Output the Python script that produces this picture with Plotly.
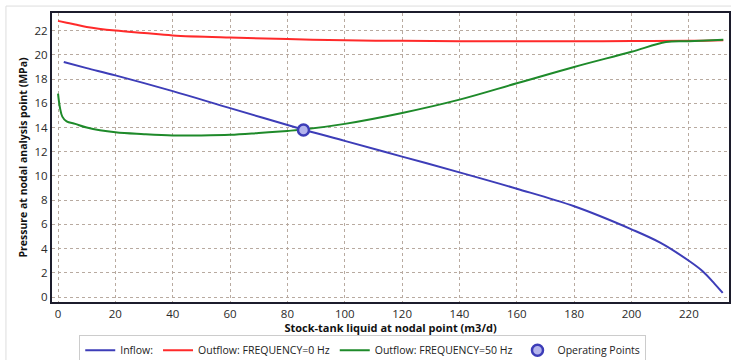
import plotly.graph_objects as go

# Inflow (IPR)
inflow_x = [2, 10, 20, 40, 60, 86, 100, 120, 140, 160, 180, 200, 210, 220, 225, 229, 231.8]
inflow_y = [19.4, 18.9, 18.3, 17.0, 15.6, 13.8, 12.9, 11.6, 10.3, 8.95, 7.5, 5.6, 4.5, 3.0, 2.1, 1.1, 0.35]

# Outflow 0 Hz
out0_x = [0, 3, 6, 10, 20, 30, 40, 60, 80, 100, 120, 140, 160, 180, 200, 220, 232]
out0_y = [22.8, 22.65, 22.5, 22.3, 22.0, 21.8, 21.6, 21.42, 21.3, 21.2, 21.15, 21.12, 21.12, 21.12, 21.13, 21.15, 21.2]

# Outflow 50 Hz
out50_x = [0, 0.7, 1.5, 3, 6, 10, 20, 30, 40, 50, 60, 70, 80, 86, 100, 120, 140, 160, 180, 200, 212, 220, 232]
out50_y = [16.8, 15.6, 14.9, 14.5, 14.3, 14.0, 13.6, 13.45, 13.35, 13.35, 13.4, 13.55, 13.72, 13.85, 14.3, 15.2, 16.3, 17.65, 19.0, 20.25, 21.05, 21.12, 21.25]

# Operating point
op_x = [85.6]
op_y = [13.8]

fig = go.Figure()
fig.add_trace(go.Scatter(x=inflow_x, y=inflow_y, mode="lines", name="Inflow:",
                         line=dict(color="#3d3db8", width=2, shape="spline")))
fig.add_trace(go.Scatter(x=out0_x, y=out0_y, mode="lines", name="Outflow: FREQUENCY=0 Hz",
                         line=dict(color="#ff2a2a", width=2, shape="spline")))
fig.add_trace(go.Scatter(x=out50_x, y=out50_y, mode="lines", name="Outflow: FREQUENCY=50 Hz",
                         line=dict(color="#1e8a2a", width=2, shape="spline")))
fig.add_trace(go.Scatter(x=op_x, y=op_y, mode="markers", name="Operating Points",
                         marker=dict(size=11, color="#b4b4ec", line=dict(color="#3d3db8", width=2.5))))

axis_font = dict(family="Open Sans", size=11.5, color="#2a2a2a")
fig.update_layout(
    width=731, height=360,
    margin=dict(l=52, r=2, t=13, b=58),
    paper_bgcolor="white", plot_bgcolor="white",
    font=dict(family="Open Sans", size=10.5, color="#222222"),
    showlegend=True,
    legend=dict(orientation="h", x=0.459, xanchor="center", yref="container", y=0.07, yanchor="top",
                bordercolor="#cccccc", borderwidth=1, font=dict(size=10.5, color="#222"),
                tracegroupgap=0),
    xaxis=dict(range=[-2.1, 234], tickmode="array", tickvals=list(range(0, 221, 20)),
               showgrid=True, gridcolor="#b8aaa0", griddash="dot", gridwidth=1,
               showline=True, mirror=True, linecolor="#1c1c2c", linewidth=2,
               ticks="", tickfont=axis_font, zeroline=False, automargin=False,
               title=dict(text="<b>Stock-tank liquid at nodal point (m3/d)</b>",
                          font=dict(size=11, color="#111"), standoff=2)),
    yaxis=dict(range=[-0.4, 23.45], tickmode="array", tickvals=list(range(0, 23, 2)),
               showgrid=True, gridcolor="#b8aaa0", griddash="dot", gridwidth=1,
               showline=True, mirror=True, linecolor="#1c1c2c", linewidth=2,
               ticks="", tickfont=axis_font, zeroline=False, automargin=False,
               title=dict(text="<b>Pressure at nodal analysis point (MPa)</b>",
                          font=dict(size=10.5, color="#111"), standoff=5)),
    shapes=[dict(type="rect", xref="paper", yref="paper", x0=-0.068, x1=1.2, y0=-0.5, y1=1.024,
                 line=dict(color="#dddddd", width=1), fillcolor="rgba(0,0,0,0)", layer="below")],
)

fig.write_html(
    "out.html",
    config={"displayModeBar": False},
    post_script="document.documentElement.style.overflow='hidden';"
                "document.body.style.margin='0';document.body.style.overflow='hidden';",
)
